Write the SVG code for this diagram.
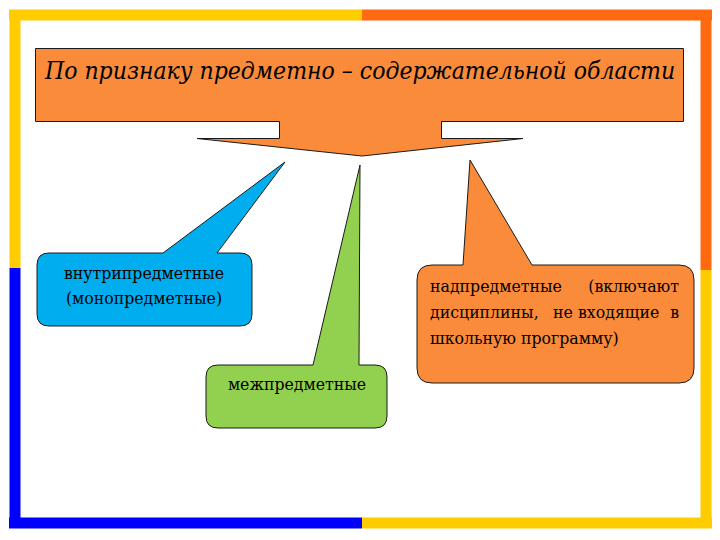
<svg xmlns="http://www.w3.org/2000/svg" width="720" height="540" viewBox="0 0 720 540">
<style>
text{font-family:'DejaVu Serif Condensed','DejaVu Serif','Liberation Serif',serif;fill:#000}
.sh{stroke:#1a1a1a;stroke-width:1;stroke-linejoin:miter}
.lb{font-size:17.5px}
</style>
<rect width="720" height="540" fill="#fff"/>
<g id="frame" stroke-width="11" fill="none" stroke-linecap="butt">
<line x1="9" y1="15" x2="362" y2="15" stroke="#ffcc00"/>
<line x1="362" y1="15" x2="712" y2="15" stroke="#ff6a10"/>
<line x1="706" y1="10" x2="706" y2="270" stroke="#ff6a10"/>
<line x1="706" y1="270" x2="706" y2="528" stroke="#ffcc00"/>
<line x1="712" y1="523" x2="362" y2="523" stroke="#ffcc00"/>
<line x1="362" y1="523" x2="9" y2="523" stroke="#0000ff"/>
<line x1="15" y1="528" x2="15" y2="268" stroke="#0000ff"/>
<line x1="15" y1="268" x2="15" y2="10" stroke="#ffcc00"/>
</g>
<g id="connectors"></g>
<g id="main">
<path class="sh" fill="#f98b3b" d="M35.5,48.5 H683.5 V121.5 H441.5 V138.5 H523 L362,156 L197,138.5 H279.5 V121.5 H35.5 Z"/>
<text x="360" y="79" font-size="24.5" font-style="italic" text-anchor="middle">По признаку предметно – содержательной области</text>
</g>
<g id="n1">
<path class="sh" fill="#00aeef" d="M49,253 H163 L285,162 L217,253 H240 Q252,253 252,265 V314 Q252,326 240,326 H49 Q37,326 37,314 V265 Q37,253 49,253 Z"/>
<text class="lb" x="144" y="279" text-anchor="middle">внутрипредметные</text>
<text class="lb" x="144" y="304" text-anchor="middle">(монопредметные)</text>
</g>
<g id="n2">
<path class="sh" fill="#92d050" d="M218,365 H313 L360,165 L359,365 H375 Q387,365 387,377 V416 Q387,428 375,428 H218 Q206,428 206,416 V377 Q206,365 218,365 Z"/>
<text class="lb" x="297" y="390" text-anchor="middle">межпредметные</text>
</g>
<g id="n3">
<path class="sh" fill="#f98b3b" d="M432,265 H463 L470,160 L532,265 H679 Q694,265 694,280 V368 Q694,383 679,383 H432 Q417,383 417,368 V280 Q417,265 432,265 Z"/>
<text class="lb"><tspan x="430" y="292">надпредметные</tspan><tspan x="679" y="292" text-anchor="end">(включают</tspan></text>
<text class="lb"><tspan x="430" y="318">дисциплины,</tspan><tspan x="553" y="318">не</tspan><tspan x="578" y="318">входящие</tspan><tspan x="679" y="318" text-anchor="end">в</tspan></text>
<text class="lb" x="430" y="344">школьную программу)</text>
</g>
</svg>
